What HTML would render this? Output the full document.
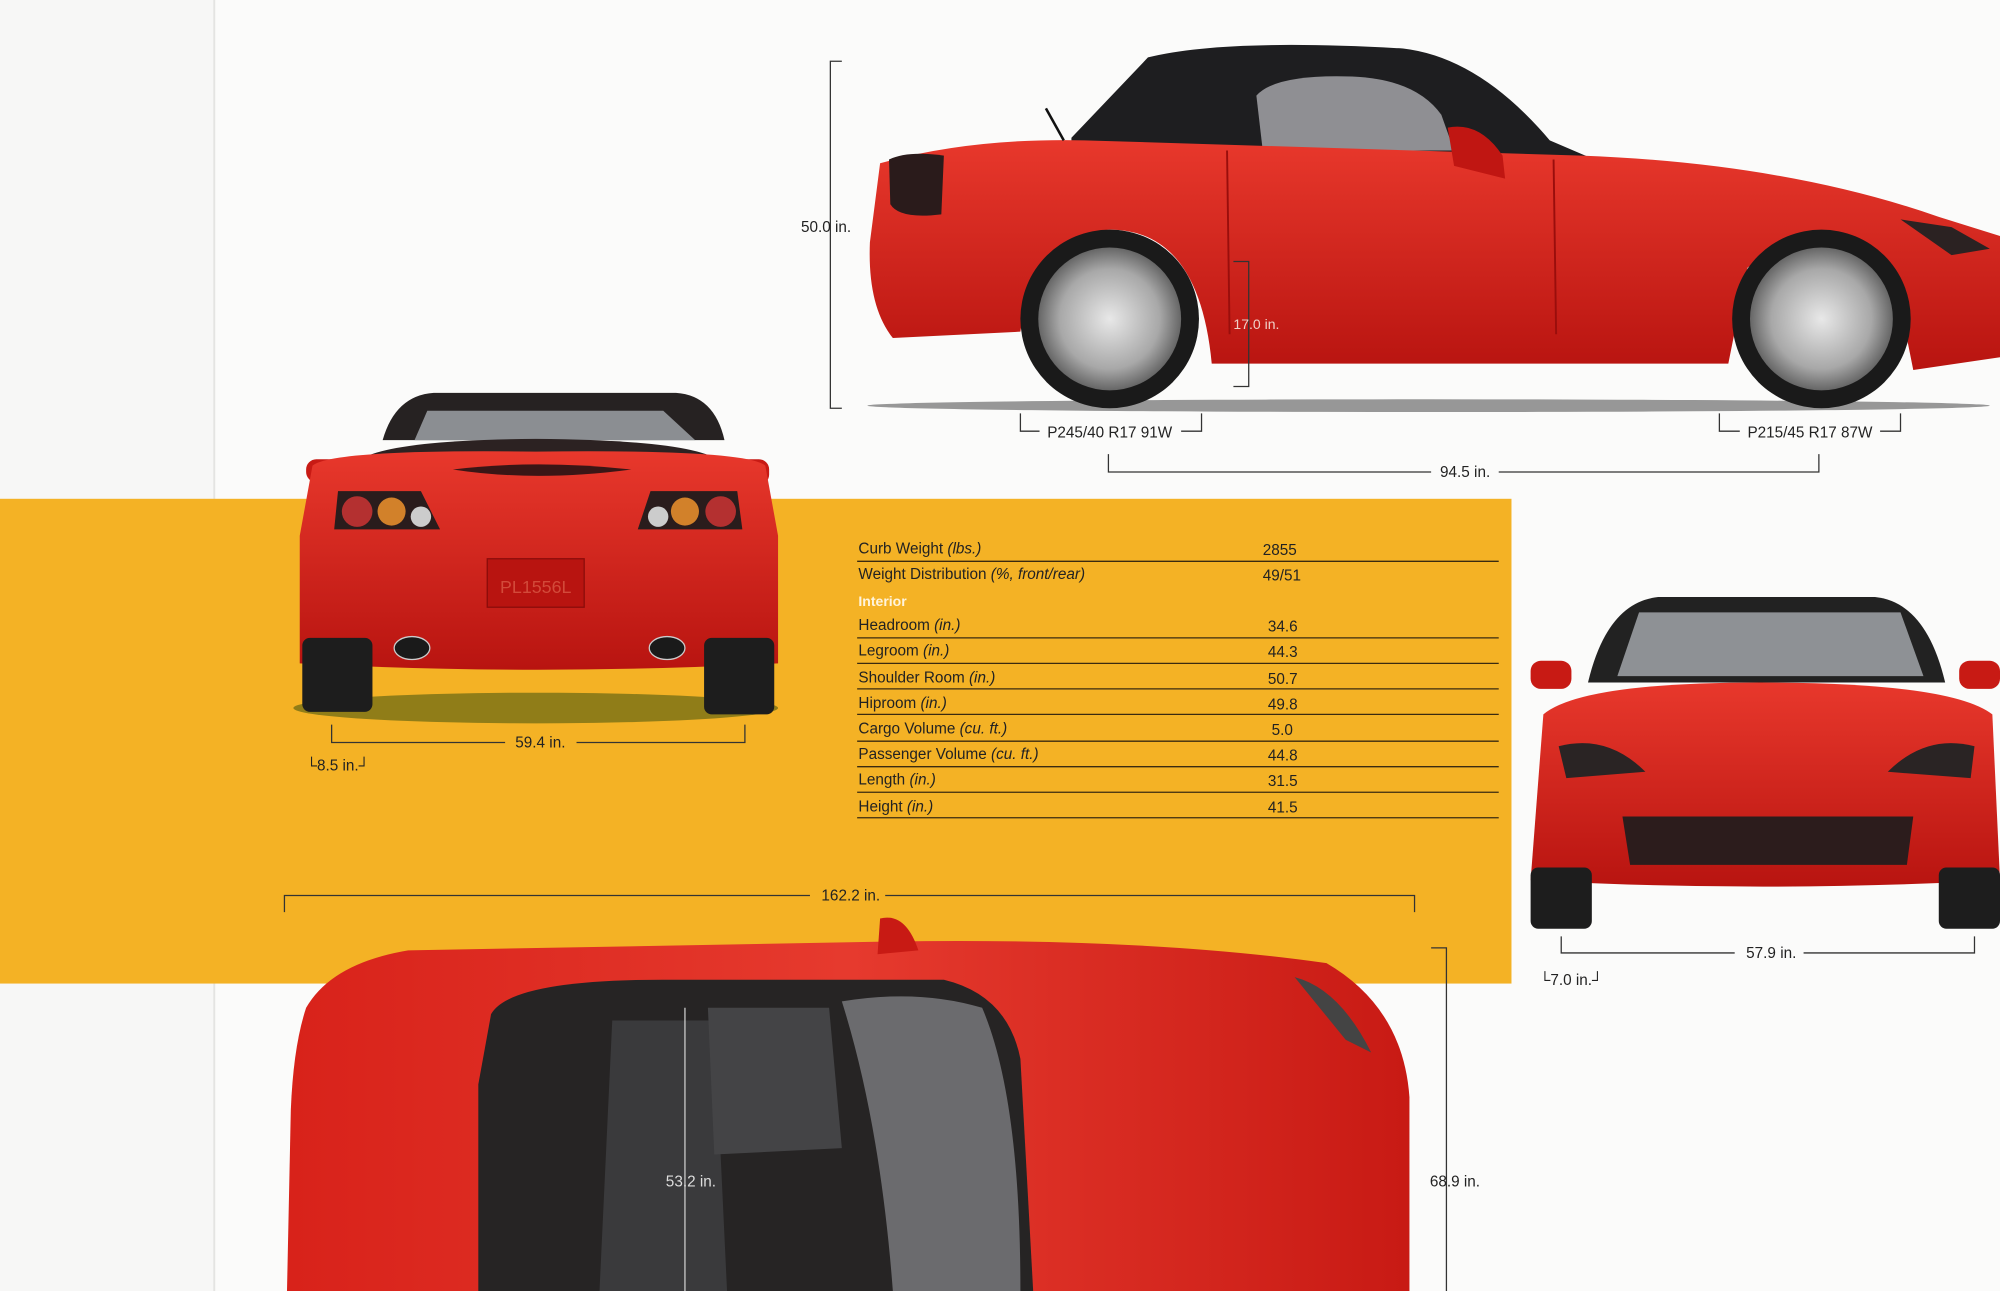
<!DOCTYPE html>
<html><head><meta charset="utf-8"><style>
html,body{margin:0;padding:0;background:#fff;}
svg{display:block}
text{font-family:"Liberation Sans",sans-serif;fill:#222;}
</style></head><body>
<svg width="2000" height="1291" viewBox="0 0 1568 1012" preserveAspectRatio="none" xmlns="http://www.w3.org/2000/svg">
<defs>
<radialGradient id="wh" cx="50%" cy="50%" r="50%"><stop offset="0" stop-color="#e8e8e8"/><stop offset="0.7" stop-color="#a8a8a8"/><stop offset="1" stop-color="#666"/></radialGradient>
<linearGradient id="bodyg" x1="0" y1="0" x2="0" y2="1"><stop offset="0" stop-color="#e8382c"/><stop offset="1" stop-color="#b81410"/></linearGradient>
<linearGradient id="topg" x1="0" y1="0" x2="1" y2="0"><stop offset="0" stop-color="#d8221a"/><stop offset="0.5" stop-color="#e63a2e"/><stop offset="1" stop-color="#c81a14"/></linearGradient>
</defs>
<rect width="1568" height="1012" fill="#fbfbfa"/>
<rect x="0" y="0" width="168" height="1012" fill="#f7f7f6"/>
<line x1="168" y1="0" x2="168" y2="1012" stroke="#e4e4e2" stroke-width="1.5"/>
<!-- yellow band -->
<rect x="0" y="391" width="1185" height="380" fill="#f4b225"/>

<!-- SIDE CAR -->
<ellipse cx="1120" cy="318" rx="440" ry="5" fill="#555" opacity="0.6"/>
<path d="M840,108 L900,45 Q960,30 1100,38 Q1160,45 1215,110 L1250,125 L840,125 Z" fill="#1e1e20"/>
<path d="M985,75 Q1000,58 1060,60 Q1110,62 1130,90 L1140,118 L990,118 Z" fill="#8f8f93"/>
<path d="M690,128 Q760,108 850,110 L1240,122 Q1400,128 1520,170 L1568,185 L1568,280 L1500,290 L1490,240 Q1430,160 1370,210 L1355,285 L950,285 Q940,180 870,180 Q810,185 800,260 L700,265 Q680,240 682,190 Z" fill="url(#bodyg)"/>
<path d="M697,125 Q712,118 740,122 L738,168 Q705,172 698,160 Z" fill="#2a1b1b"/>
<path d="M1135,100 Q1160,95 1178,122 L1180,140 L1140,130 Z" fill="#c01612"/>
<line x1="962" y1="118" x2="964" y2="262" stroke="#9a0e0c" stroke-width="1.5"/>
<line x1="1218" y1="125" x2="1220" y2="262" stroke="#9a0e0c" stroke-width="1.5"/>
<path d="M1490,172 L1530,178 L1560,195 L1530,200 Z" fill="#2b2222"/>
<circle cx="870" cy="250" r="70" fill="#1a1a1a"/>
<circle cx="870" cy="250" r="56" fill="url(#wh)"/>
<circle cx="1428" cy="250" r="70" fill="#1a1a1a"/>
<circle cx="1428" cy="250" r="56" fill="url(#wh)"/>
<line x1="820" y1="85" x2="834" y2="110" stroke="#111" stroke-width="2"/>
<!-- side dims -->
<g stroke="#333" stroke-width="1" fill="none">
<path d="M660,48 H651 V320 H660"/>
<path d="M967,205 H979 V303 H967"/>
<path d="M800,324 V338 H815 M926,338 H942 V324"/>
<path d="M1348,324 V338 H1364 M1474,338 H1490 V324"/>
<path d="M869,356 V370 H1122 M1175,370 H1426 V356"/>
</g>
<text x="628" y="182" font-size="12">50.0 in.</text>
<text x="967" y="258" font-size="11" fill="#eee" style="fill:#f0d0c8">17.0 in.</text>
<text x="821" y="343" font-size="12">P245/40 R17 91W</text>
<text x="1370" y="343" font-size="12">P215/45 R17 87W</text>
<text x="1129" y="374" font-size="12">94.5 in.</text>

<!-- REAR CAR -->
<ellipse cx="420" cy="555" rx="190" ry="12" fill="#4c5a10" opacity="0.6"/>
<path d="M300,345 Q310,310 340,308 L530,308 Q560,310 568,345 Z" fill="#262222"/>
<path d="M325,345 L335,322 L520,322 L545,345 Z" fill="#8b8e92"/>
<path d="M280,362 Q300,345 420,344 Q545,345 565,362 Z" fill="#2c2222"/>
<rect x="240" y="360" width="30" height="18" rx="8" fill="#c81a14"/>
<rect x="573" y="360" width="30" height="20" rx="8" fill="#c81a14"/>
<path d="M245,365 Q260,352 420,354 Q585,352 600,365 L610,420 L610,520 Q420,530 235,520 L235,420 Z" fill="url(#bodyg)"/>
<path d="M265,385 L330,385 L345,415 L262,415 Z" fill="#2a1c1c"/>
<circle cx="280" cy="401" r="12" fill="#b43030"/><circle cx="307" cy="401" r="11" fill="#d2812a"/><circle cx="330" cy="405" r="8" fill="#ccc"/>
<path d="M510,385 L578,385 L582,415 L500,415 Z" fill="#2a1c1c"/>
<circle cx="565" cy="401" r="12" fill="#b43030"/><circle cx="537" cy="401" r="11" fill="#d2812a"/><circle cx="516" cy="405" r="8" fill="#ccc"/>
<rect x="382" y="438" width="76" height="38" fill="#b81410" stroke="#8a0c0a"/>
<text x="392" y="465" font-size="14" style="fill:#d24a3a">PL1556L</text>
<path d="M355,368 Q420,360 495,368 Q420,378 355,368 Z" fill="#3a1616"/>
<ellipse cx="323" cy="508" rx="14" ry="9" fill="#1a1a1a" stroke="#ccc"/>
<ellipse cx="523" cy="508" rx="14" ry="9" fill="#1a1a1a" stroke="#ccc"/>
<rect x="237" y="500" width="55" height="58" rx="6" fill="#1d1d1d"/>
<rect x="552" y="500" width="55" height="60" rx="6" fill="#1d1d1d"/>
<g stroke="#333" stroke-width="1" fill="none"><path d="M260,568 V582 H396 M452,582 H584 V568"/></g>
<text x="404" y="586" font-size="12">59.4 in.</text>
<text x="240" y="604" font-size="12">└8.5 in.┘</text>

<!-- TABLE -->
<g font-size="12">
<text x="673" y="434">Curb Weight <tspan font-style="italic">(lbs.)</tspan></text><text x="990" y="435">2855</text>
<text x="673" y="454">Weight Distribution <tspan font-style="italic">(%, front/rear)</tspan></text><text x="990" y="455">49/51</text>
<text x="673" y="475" font-weight="bold" style="fill:#fff4dc" font-size="11">Interior</text>
<text x="673" y="494">Headroom <tspan font-style="italic">(in.)</tspan></text><text x="994" y="495">34.6</text>
<text x="673" y="514">Legroom <tspan font-style="italic">(in.)</tspan></text><text x="994" y="515">44.3</text>
<text x="673" y="535">Shoulder Room <tspan font-style="italic">(in.)</tspan></text><text x="994" y="536">50.7</text>
<text x="673" y="555">Hiproom <tspan font-style="italic">(in.)</tspan></text><text x="994" y="556">49.8</text>
<text x="673" y="575">Cargo Volume <tspan font-style="italic">(cu. ft.)</tspan></text><text x="997" y="576">5.0</text>
<text x="673" y="595">Passenger Volume <tspan font-style="italic">(cu. ft.)</tspan></text><text x="994" y="596">44.8</text>
<text x="673" y="615">Length <tspan font-style="italic">(in.)</tspan></text><text x="994" y="616">31.5</text>
<text x="673" y="636">Height <tspan font-style="italic">(in.)</tspan></text><text x="994" y="637">41.5</text>
</g>
<g stroke="#3a2a10" stroke-width="1">
<line x1="672" y1="440" x2="1175" y2="440"/><line x1="672" y1="500" x2="1175" y2="500"/><line x1="672" y1="520" x2="1175" y2="520"/><line x1="672" y1="540" x2="1175" y2="540"/><line x1="672" y1="560" x2="1175" y2="560"/><line x1="672" y1="581" x2="1175" y2="581"/><line x1="672" y1="601" x2="1175" y2="601"/><line x1="672" y1="621" x2="1175" y2="621"/><line x1="672" y1="641" x2="1175" y2="641"/>
</g>

<!-- FRONT CAR -->
<path d="M1245,535 Q1260,472 1300,468 L1470,468 Q1510,472 1525,535 Z" fill="#222"/>
<path d="M1268,530 L1285,480 L1490,480 L1508,530 Z" fill="#8e9195"/>
<rect x="1200" y="518" width="32" height="22" rx="8" fill="#c81a14"/>
<rect x="1536" y="518" width="32" height="22" rx="8" fill="#c81a14"/>
<path d="M1210,560 Q1240,535 1380,535 Q1530,535 1562,560 L1568,690 Q1380,700 1200,690 Z" fill="url(#bodyg)"/>
<path d="M1222,585 Q1260,575 1290,605 L1228,610 Z" fill="#2a2424"/>
<path d="M1548,585 Q1510,575 1480,605 L1545,610 Z" fill="#2a2424"/>
<path d="M1272,640 L1500,640 L1495,678 L1278,678 Z" fill="#2c1c1c"/>
<rect x="1200" y="680" width="48" height="48" rx="6" fill="#1d1d1d"/>
<rect x="1520" y="680" width="48" height="48" rx="6" fill="#1d1d1d"/>
<g stroke="#333" stroke-width="1" fill="none"><path d="M1224,734 V747 H1360 M1414,747 H1548 V734"/></g>
<text x="1369" y="751" font-size="12">57.9 in.</text>
<text x="1207" y="772" font-size="12">└7.0 in.┘</text>

<!-- TOP CAR -->
<path d="M240,790 Q260,755 320,745 L700,738 Q900,735 1040,755 Q1100,790 1105,860 L1105,1012 L225,1012 L228,870 Q230,820 240,790 Z" fill="url(#topg)"/>
<path d="M385,795 Q400,768 520,768 L740,768 Q790,780 800,830 L810,1012 L375,1012 L375,850 Z" fill="#262424"/>
<path d="M660,785 Q720,775 770,790 Q800,860 800,1012 L700,1012 Q690,880 660,785 Z" fill="#6b6b6e"/>
<path d="M480,800 L560,800 L570,1012 L470,1012 Z" fill="#3a3a3c"/>
<path d="M555,790 L650,790 L660,900 L560,905 Z" fill="#444446"/>
<path d="M690,720 Q710,715 720,745 L688,748 Z" fill="#c81a14"/>
<path d="M1015,766 Q1050,775 1075,825 L1055,815 Z" fill="#444"/>
<g stroke="#333" stroke-width="1" fill="none">
<path d="M223,715 V702 H635 M694,702 H1109 V715"/>
<path d="M1122,743 H1134 V1012"/>
</g>
<line x1="537" y1="790" x2="537" y2="1012" stroke="#ccc" stroke-width="1"/>
<text x="644" y="706" font-size="12">162.2 in.</text>
<text x="522" y="930" font-size="12" style="fill:#ddd">53.2 in.</text>
<text x="1121" y="930" font-size="12">68.9 in.</text>
</svg>
</body></html>
